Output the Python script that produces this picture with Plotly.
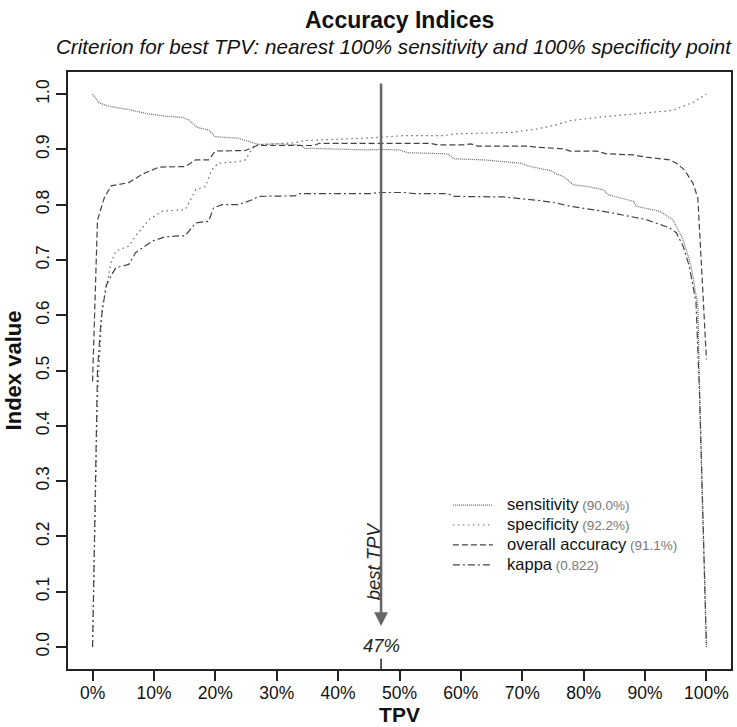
import plotly.graph_objects as go

FONT = "Liberation Sans, Arial, Helvetica, sans-serif"

# ---- data (TPV in %, index values) ----
sens_x = [0, 1, 2, 3.2, 5.9, 8.7, 11.9, 14.6, 15.7, 17, 18.9, 20, 23.8, 27, 30, 33.8, 34.6, 40, 45, 47, 50,
          51.3, 57.8, 58.9, 63.8, 69.7, 71.3, 73.5, 74.6, 75.6, 76.7, 78.3, 80.5, 83.2, 84, 88.1, 88.6,
          92.4, 94.5, 96.2, 97.5, 98.6, 98.9, 100]
sens_y = [1.0, 0.985, 0.980, 0.977, 0.972, 0.965, 0.960, 0.958, 0.953, 0.940, 0.935, 0.923, 0.920, 0.909,
          0.910, 0.908, 0.902, 0.900, 0.899, 0.900, 0.899, 0.894, 0.892, 0.883, 0.881, 0.875, 0.869, 0.864,
          0.862, 0.855, 0.851, 0.836, 0.833, 0.827, 0.818, 0.806, 0.797, 0.788, 0.773, 0.737, 0.689, 0.617,
          0.45, 0.0]

spec_x = [0, 0.8, 1.6, 2.2, 3, 3.8, 5.9, 7, 9.2, 11.3, 15.1, 16.8, 18.4, 19.4, 20.5, 23.8, 24.9, 26, 26.8,
          30, 33, 34.6, 40, 43.8, 47, 50.8, 57.3, 58.9, 68.6, 71.3, 72.4, 75.1, 77.8, 83.2, 88.6, 94, 95.1,
          97.8, 100]
spec_y = [0.0, 0.45, 0.617, 0.647, 0.695, 0.716, 0.725, 0.743, 0.773, 0.788, 0.791, 0.827, 0.833, 0.863,
          0.875, 0.878, 0.881, 0.902, 0.908, 0.910, 0.912, 0.916, 0.918, 0.920, 0.922, 0.925, 0.925, 0.928,
          0.931, 0.935, 0.937, 0.943, 0.952, 0.959, 0.964, 0.970, 0.973, 0.985, 1.0]

acc_x = [0, 0.8, 1.9, 3, 5.9, 8.1, 10.8, 15.1, 16.8, 18.9, 20, 24.9, 26.8, 36, 37, 55, 56.2, 60.5, 61.6,
         62.7, 70.8, 72.4, 76.7, 77.8, 82.1, 83.7, 88.1, 90.2, 94, 95.1, 96.4, 97.8, 98.6, 100]
acc_y = [0.48, 0.772, 0.812, 0.834, 0.840, 0.855, 0.868, 0.869, 0.881, 0.881, 0.897, 0.898, 0.907, 0.907,
         0.911, 0.911, 0.908, 0.908, 0.910, 0.906, 0.906, 0.904, 0.901, 0.897, 0.897, 0.892, 0.890, 0.886,
         0.881, 0.875, 0.863, 0.839, 0.812, 0.52]

kap_x = [0, 0.8, 1.4, 2.2, 3, 3.8, 5.9, 7, 9.7, 11.9, 15.1, 16.8, 18.9, 19.7, 21.1, 23.8, 26, 27, 33, 33.8,
         45.4, 46.5, 50.8, 52.4, 57.8, 58.9, 67, 69.7, 72.4, 75.6, 77.8, 83.2, 87.5, 90.2, 94, 95.1, 96.2,
         97.2, 98.3, 98.7, 98.9, 100]
kap_y = [0.0, 0.50, 0.593, 0.653, 0.671, 0.686, 0.692, 0.713, 0.734, 0.742, 0.744, 0.767, 0.770, 0.794,
         0.800, 0.800, 0.809, 0.815, 0.816, 0.820, 0.820, 0.822, 0.822, 0.820, 0.820, 0.815, 0.814, 0.811,
         0.808, 0.803, 0.797, 0.788, 0.779, 0.773, 0.758, 0.749, 0.725, 0.689, 0.623, 0.52, 0.45, 0.0]

series_names = ["sensitivity", "specificity", "overall accuracy", "kappa"]
best_values = ["(90.0%)", "(92.2%)", "(91.1%)", "(0.822)"]
best_tpv = 47

x_ticks = list(range(0, 101, 10))
x_tick_labels = [f"{v}%" for v in x_ticks]
y_ticks = [i / 10 for i in range(11)]
y_tick_labels = [f"{v:.1f}" for v in y_ticks]

styles = [
    dict(color="#666666", dash="1px,1px"),
    dict(color="#666666", dash="1.5px,3.5px"),
    dict(color="#444444", dash="6px,3px"),
    dict(color="#444444", dash="7px,3px,2px,3px"),
]

fig = go.Figure()
for (xs, ys), name, bv, st in zip([(sens_x, sens_y), (spec_x, spec_y), (acc_x, acc_y), (kap_x, kap_y)],
                                   series_names, best_values, styles):
    fig.add_trace(go.Scatter(
        x=xs, y=ys, mode="lines",
        name=(f"<span style='font-size:16.5px'>\u00a0\u00a0{name}</span> "
              f"<span style='font-size:13.5px;color:#777777'>{bv}</span>"),
        line=dict(color=st["color"], dash=st["dash"], width=1.2),
        hoverinfo="skip",
    ))

# best TPV arrow
fig.add_annotation(x=best_tpv, y=0.038, ax=best_tpv, ay=1.022, xref="x", yref="y", axref="x", ayref="y",
                   showarrow=True, arrowhead=2, arrowsize=1.1, arrowwidth=2.5, arrowcolor="#666666", text="")
fig.add_annotation(x=best_tpv - 1.3, y=0.155, xref="x", yref="y", text="<i>best TPV</i>", showarrow=False,
                   textangle=-90, font=dict(size=18.5, color="#222222", family=FONT))
fig.add_annotation(x=best_tpv, y=0.002, xref="x", yref="y", text="<i>47%</i>", showarrow=False,
                   font=dict(size=18.5, color="#222222", family=FONT))
fig.add_shape(type="line", x0=best_tpv, x1=best_tpv, xref="x", y0=0, y1=0.017, yref="paper",
              line=dict(color="#222222", width=1.5))

# titles
fig.add_annotation(x=0.5, y=1.087, xref="paper", yref="paper", yanchor="middle", text="<b>Accuracy Indices</b>",
                   showarrow=False, font=dict(size=23, color="#111111", family=FONT))
fig.add_annotation(x=0.491, y=1.042, xref="paper", yref="paper", yanchor="middle",
                   text="<i>Criterion for best TPV: nearest 100% sensitivity and 100% specificity point</i>",
                   showarrow=False, font=dict(size=20.6, color="#111111", family=FONT))

fig.update_layout(
    width=737, height=727,
    margin=dict(l=68, r=4, t=72, b=58),
    paper_bgcolor="white", plot_bgcolor="white",
    font=dict(family=FONT, color="#111111"),
    showlegend=True,
    legend=dict(x=0.573, y=0.2996, xanchor="left", yanchor="top", bgcolor="rgba(0,0,0,0)",
                font=dict(size=13, family=FONT, color="#111111"), itemwidth=40, tracegroupgap=0),
    xaxis=dict(range=[-4, 104], tickmode="array", tickvals=x_ticks, ticktext=x_tick_labels,
               ticks="outside", ticklen=10, tickwidth=1.5, tickcolor="#222222",
               showline=True, linecolor="#222222", linewidth=1.5, mirror=True,
               showgrid=False, zeroline=False, tickfont=dict(size=17.5), ticklabelstandoff=-3,
               title=dict(text="<b>TPV</b>", font=dict(size=21), standoff=6)),
    yaxis=dict(range=[-0.04, 1.04], tickmode="array", tickvals=y_ticks, ticktext=y_tick_labels,
               ticks="outside", ticklen=10, tickwidth=1.5, tickcolor="#222222", tickangle=-90,
               showline=True, linecolor="#222222", linewidth=1.5, mirror=True,
               showgrid=False, zeroline=False, tickfont=dict(size=17.5),
               title=dict(text="<b>Index value</b>", font=dict(size=22), standoff=6)),
)

fig.write_html("out.html")
